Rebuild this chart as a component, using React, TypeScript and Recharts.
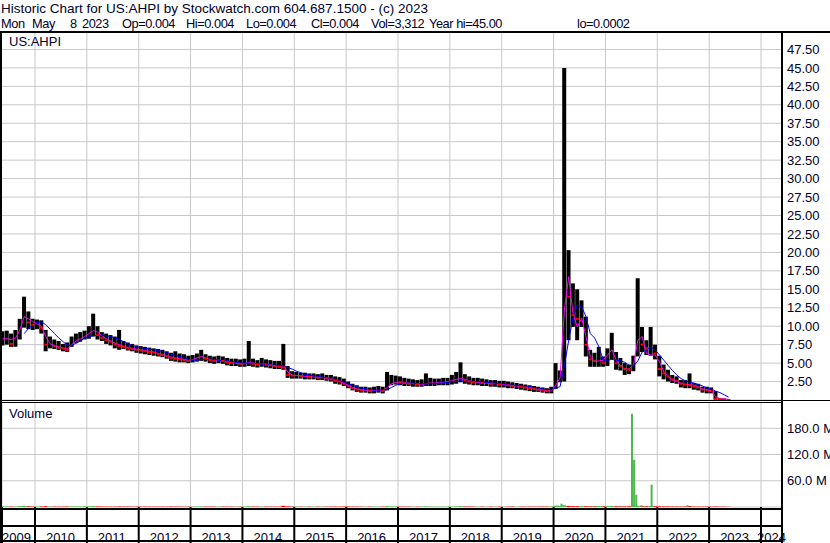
import React from 'react';
import { ComposedChart, Bar, Line, Scatter, XAxis, YAxis, CartesianGrid, Cell } from 'recharts';

// ---- monthly price data, starting May 2009, ending May 2023 ----
const FIRST_YEAR = 2009;
const FIRST_MONTH = 5;

const highs = [
  9.3, 9.4, 9.0, 9.5, 11.0, 14.0, 12.0, 11.0,
  10.9, 10.8, 9.5, 8.6, 8.2, 8.0, 7.6, 7.8, 8.6, 9.0, 9.2, 9.4,
  10.0, 11.7, 10.0, 9.2, 9.0, 8.8, 8.6, 9.5, 8.0, 7.8, 7.6, 7.4,
  7.3, 7.2, 7.1, 7.0, 6.9, 6.8, 6.6, 6.4, 6.6, 6.3, 6.2, 6.0,
  6.1, 6.3, 6.8, 6.2, 6.0, 5.9, 6.0, 5.9, 5.7, 5.6, 5.6, 5.5,
  5.6, 8.0, 5.6, 5.4, 5.7, 5.5, 5.4, 5.3, 5.3, 7.6, 4.6, 3.9,
  3.8, 3.7, 3.7, 3.6, 3.6, 3.5, 3.6, 3.4, 3.4, 3.2, 3.1, 2.9,
  2.5, 2.2, 2.0, 1.8, 1.8, 1.7, 1.8, 1.9, 1.8, 3.8, 3.4, 3.3,
  3.2, 3.0, 2.9, 2.8, 2.7, 2.8, 3.6, 3.0, 2.9, 2.9, 3.0, 3.0,
  3.4, 3.8, 5.1, 3.5, 3.2, 3.0, 3.0, 2.9, 2.8, 2.7, 2.7, 2.6,
  2.6, 2.5, 2.4, 2.3, 2.2, 2.1, 2.0, 1.9, 1.8, 1.7, 1.6, 1.8,
  5.0, 4.0, 45.0, 20.3, 15.8, 15.0, 13.5, 11.3, 6.8, 6.4, 7.2, 5.9,
  7.0, 9.1, 6.5, 5.7, 5.0, 4.8, 6.0, 16.5, 9.9, 8.1, 9.9, 7.5,
  6.0, 4.8, 4.1, 3.4, 3.2, 2.7, 2.7, 3.6, 2.3, 2.2, 1.8, 1.8,
  1.7, 1.2, 0.25, 0.2, 0.1,
];

const lows = [
  7.4, 7.5, 7.2, 7.2, 8.2, 9.8, 9.6, 9.5,
  9.6, 9.0, 6.6, 7.0, 6.9, 6.8, 6.6, 6.5, 7.2, 7.7, 7.9, 8.2,
  8.3, 8.6, 8.2, 8.0, 7.6, 7.4, 7.0, 6.8, 6.9, 6.7, 6.6, 6.4,
  6.3, 6.2, 6.1, 6.0, 5.9, 5.8, 5.6, 5.3, 5.2, 5.1, 5.1, 5.0,
  5.1, 5.2, 5.3, 5.2, 5.0, 4.9, 5.0, 4.9, 4.7, 4.6, 4.6, 4.5,
  4.5, 4.6, 4.5, 4.4, 4.5, 4.4, 4.3, 4.2, 4.2, 4.1, 3.0, 2.9,
  2.9, 2.9, 2.8, 2.8, 2.8, 2.7, 2.7, 2.6, 2.5, 2.2, 2.1, 1.9,
  1.6, 1.3, 1.1, 1.0, 1.0, 0.9, 0.9, 1.0, 0.9, 1.3, 2.0, 2.1,
  2.0, 1.9, 1.9, 1.8, 1.8, 1.8, 1.9, 1.9, 1.9, 2.0, 2.0, 2.0,
  2.1, 2.2, 2.4, 2.2, 2.1, 2.0, 2.0, 1.9, 1.9, 1.8, 1.8, 1.7,
  1.7, 1.6, 1.6, 1.5, 1.4, 1.3, 1.2, 1.1, 1.1, 1.0, 0.9, 0.9,
  1.5, 2.4, 2.5, 8.1, 9.9, 8.1, 9.9, 5.9, 4.5, 4.5, 4.5, 4.5,
  4.6, 5.5, 4.1, 4.0, 3.4, 3.5, 3.9, 5.9, 6.5, 6.1, 6.0, 5.5,
  3.2, 2.8, 2.5, 2.3, 2.2, 1.7, 1.6, 1.6, 1.4, 1.3, 1.0, 0.9,
  0.9, 0.05, 0.01, 0.005, 0.004,
];

const closes = [
  8.0, 8.2, 7.6, 8.6, 9.8, 11.5, 10.5, 10.2,
  10.3, 9.8, 7.5, 7.5, 7.3, 7.1, 7.0, 6.8, 8.0, 8.3, 8.5, 8.8,
  9.0, 9.5, 8.8, 8.4, 8.1, 7.9, 7.5, 7.3, 7.2, 7.0, 6.9, 6.8,
  6.7, 6.6, 6.5, 6.4, 6.2, 6.1, 5.9, 5.7, 5.6, 5.5, 5.4, 5.3,
  5.5, 5.6, 5.8, 5.6, 5.4, 5.3, 5.4, 5.3, 5.1, 5.0, 5.0, 4.9,
  4.9, 5.0, 4.9, 4.8, 4.9, 4.8, 4.7, 4.6, 4.5, 4.4, 3.4, 3.3,
  3.3, 3.2, 3.2, 3.1, 3.1, 3.0, 3.0, 2.9, 2.8, 2.6, 2.5, 2.2,
  1.9, 1.6, 1.4, 1.3, 1.3, 1.2, 1.2, 1.3, 1.2, 2.2, 2.5, 2.6,
  2.4, 2.3, 2.2, 2.2, 2.1, 2.1, 2.3, 2.3, 2.3, 2.4, 2.4, 2.5,
  2.6, 2.8, 3.0, 2.7, 2.5, 2.4, 2.4, 2.3, 2.3, 2.2, 2.2, 2.1,
  2.1, 2.0, 1.9, 1.9, 1.8, 1.7, 1.6, 1.5, 1.4, 1.3, 1.2, 1.2,
  2.5, 3.0, 20.0, 14.0, 11.5, 11.0, 11.5, 7.5, 5.5, 5.3, 5.5, 5.0,
  5.8, 7.0, 5.0, 4.6, 4.2, 4.1, 4.6, 9.5, 7.5, 7.0, 7.0, 6.3,
  4.2, 3.6, 3.2, 2.8, 2.6, 2.2, 2.1, 2.0, 1.8, 1.7, 1.4, 1.3,
  1.2, 0.2, 0.1, 0.05, 0.004,
];

// short moving average (magenta)
const maShort = [
  8.3, 8.3, 8.2, 8.4, 9.5, 11.3, 11.0, 10.6,
  10.3, 10.0, 8.6, 7.6, 7.4, 7.2, 7.0, 6.9, 7.5, 8.0, 8.3, 8.6,
  9.0, 9.4, 9.2, 8.7, 8.3, 8.0, 7.7, 7.5, 7.3, 7.1, 7.0, 6.9,
  6.8, 6.7, 6.6, 6.5, 6.3, 6.2, 6.0, 5.8, 5.7, 5.6, 5.5, 5.4,
  5.5, 5.7, 5.9, 5.7, 5.5, 5.4, 5.4, 5.3, 5.2, 5.1, 5.0, 4.9,
  4.9, 5.1, 5.0, 4.9, 4.9, 4.8, 4.7, 4.6, 4.6, 4.6, 3.8, 3.4,
  3.3, 3.3, 3.2, 3.2, 3.1, 3.1, 3.0, 3.0, 2.9, 2.7, 2.5, 2.3,
  2.0, 1.7, 1.5, 1.4, 1.3, 1.3, 1.3, 1.3, 1.3, 1.7, 2.2, 2.4,
  2.4, 2.3, 2.3, 2.2, 2.2, 2.1, 2.2, 2.3, 2.3, 2.4, 2.4, 2.5,
  2.6, 2.8, 2.9, 2.8, 2.6, 2.4, 2.4, 2.3, 2.3, 2.2, 2.2, 2.1,
  2.1, 2.0, 1.9, 1.9, 1.8, 1.7, 1.6, 1.5, 1.4, 1.3, 1.3, 1.2,
  2.0, 3.0, 12.2, 16.7, 11.7, 9.9, 11.1, 8.6, 5.9, 5.2, 5.3, 5.4,
  6.1, 6.8, 5.4, 4.6, 4.2, 4.2, 4.8, 8.1, 8.6, 6.3, 6.1, 6.1,
  5.2, 3.8, 3.2, 2.7, 2.5, 2.3, 2.1, 2.1, 2.0, 1.8, 1.5, 1.4,
  1.2, 0.45, 0.2, 0.15, 0.1,
];

// long moving average (blue)
const maLong: (number | null)[] = [
  null, null, null, null, null, 9.0, 9.7, 10.2,
  10.5, 10.6, 10.2, 9.6, 9.0, 8.4, 7.9, 7.4, 7.4, 7.7, 8.0, 8.4,
  8.6, 8.7, 8.8, 8.8, 8.7, 8.6, 8.4, 8.2, 7.9, 7.6, 7.4, 7.2,
  7.1, 7.0, 6.9, 6.8, 6.7, 6.6, 6.4, 6.2, 6.0, 5.9, 5.7, 5.5,
  5.4, 5.4, 5.5, 5.5, 5.5, 5.5, 5.4, 5.3, 5.3, 5.2, 5.1, 5.0,
  5.0, 5.0, 5.0, 4.9, 4.9, 4.8, 4.8, 4.7, 4.7, 4.6, 4.4, 4.2,
  3.9, 3.7, 3.5, 3.4, 3.3, 3.2, 3.1, 3.0, 2.9, 2.8, 2.6, 2.4,
  2.2, 2.0, 1.8, 1.6, 1.5, 1.4, 1.35, 1.35, 1.35, 1.4, 1.7, 2.0,
  2.2, 2.3, 2.3, 2.3, 2.2, 2.2, 2.2, 2.2, 2.2, 2.3, 2.3, 2.4,
  2.5, 2.5, 2.6, 2.6, 2.6, 2.5, 2.5, 2.4, 2.4, 2.3, 2.3, 2.2,
  2.2, 2.1, 2.0, 2.0, 1.9, 1.8, 1.8, 1.7, 1.6, 1.5, 1.4, 1.4,
  1.6, 1.8, 4.6, 8.1, 11.1, 12.9, 12.6, 11.3, 9.0, 8.4, 7.2, 5.4,
  5.4, 5.5, 5.4, 5.3, 5.1, 4.7, 4.6, 5.3, 6.5, 6.8, 7.2, 6.8,
  6.1, 5.4, 4.7, 4.0, 3.4, 2.9, 2.6, 2.4, 2.3, 2.1, 1.9, 1.6,
  1.5, 1.2, 1.0, 0.7, 0.4,
];

// monthly baseline volume (millions)
const volumes = [
  1.5, 1.2, 1.0, 1.4, 2.0, 2.5, 1.6, 1.2,
  1.1, 1.3, 1.8, 1.2, 1.0, 0.9, 1.0, 1.1, 1.4, 1.3, 1.2, 1.5,
  1.4, 2.0, 1.3, 1.1, 1.0, 1.0, 0.9, 1.2, 1.0, 0.9, 0.8, 0.9,
  0.9, 1.0, 0.9, 0.8, 0.9, 1.0, 0.9, 1.1, 1.0, 0.9, 0.8, 0.9,
  1.0, 1.1, 1.3, 1.0, 0.9, 0.9, 1.0, 0.9, 0.8, 0.9, 0.9, 0.8,
  0.9, 1.8, 1.0, 0.9, 1.1, 1.0, 0.9, 0.9, 0.8, 2.8, 1.5, 1.0,
  0.9, 0.8, 0.9, 0.8, 0.9, 0.8, 0.9, 0.8, 0.9, 1.0, 0.9, 1.1,
  1.2, 1.0, 0.9, 0.8, 0.9, 0.8, 0.9, 0.9, 0.8, 1.9, 1.4, 1.2,
  1.0, 0.9, 0.9, 0.8, 0.8, 0.9, 1.3, 1.0, 0.9, 0.9, 1.0, 1.0,
  1.1, 1.3, 2.0, 1.2, 1.0, 0.9, 0.9, 0.9, 0.8, 0.9, 0.8, 0.9,
  0.9, 0.8, 0.9, 0.8, 0.9, 0.8, 0.9, 0.8, 0.9, 1.0, 1.0, 1.2,
  3.0, 2.5, 4.0, 2.5, 2.0, 1.8, 2.0, 1.7, 1.5, 1.4, 2.0, 1.5,
  1.8, 2.5, 1.6, 1.5, 1.4, 1.6, 3.0, 3.0, 2.0, 1.6, 2.5, 1.8,
  1.6, 1.4, 1.3, 1.2, 1.2, 1.1, 1.2, 2.0, 1.1, 1.0, 1.0, 1.0,
  1.0, 1.2, 0.8, 0.8, 0.6,
];

// large single-week volume bars (millions)
const spikeDates = ['2020-01-24', '2020-02-26', '2020-11-02', '2021-07-07', '2021-07-22', '2021-08-06', '2021-09-12', '2021-11-22', '2022-08-02'];
const spikeVolumes = [3.0, 7.5, 2.5, 213, 108, 28, 4, 51, 4];

const yearTicks = [2009.3636, 2010, 2011, 2012, 2013, 2014, 2015, 2016, 2017, 2018, 2019, 2020, 2021, 2022, 2023, 2024];
const yearLabels = ['2009', '2010', '2011', '2012', '2013', '2014', '2015', '2016', '2017', '2018', '2019', '2020', '2021', '2022', '2023', '2024'];
const priceTicks = [2.5, 5, 7.5, 10, 12.5, 15, 17.5, 20, 22.5, 25, 27.5, 30, 32.5, 35, 37.5, 40, 42.5, 45, 47.5];
const volTicks = [60, 120, 180];

const headerLine1 = 'Historic Chart for US:AHPI by Stockwatch.com 604.687.1500 - (c) 2023';
const headerFields = ['Mon', 'May', '8', '2023', 'Op=0.004', 'Hi=0.004', 'Lo=0.004', 'Cl=0.004', 'Vol=3,312', 'Year hi=45.00', 'lo=0.0002'];
const headerFieldX = [2, 33, 71, 83, 123, 187, 247, 312, 372, 430, 578];
const symbolLabel = 'US:AHPI';
const volumeLabel = 'Volume';

// ---- derived rows ----
const X_DOMAIN: [number, number] = [2009.3636, 2024.405];
const gridYears = yearTicks.slice(1);

const monthT = (i: number) => {
  const m0 = FIRST_MONTH - 1 + i;
  const y = FIRST_YEAR + Math.floor(m0 / 12);
  const m = m0 % 12;
  return y + (m + 0.5) / 12;
};

const dateT = (s: string) => {
  const [y, m, d] = s.split('-').map(Number);
  const start = Date.UTC(y, 0, 1);
  const end = Date.UTC(y + 1, 0, 1);
  const cur = Date.UTC(y, m - 1, d);
  return y + (cur - start + 43200000) / (end - start);
};

const priceRows = highs.map((h, i) => ({
  t: monthT(i),
  range: [lows[i], h],
  down: i > 0 && closes[i] < closes[i - 1] ? closes[i] : null,
  ma1: maShort[i],
  ma2: maLong[i],
}));

const volRows = volumes.map((v, i) => ({
  t: monthT(i),
  v,
  up: i === 0 ? true : closes[i] >= closes[i - 1],
}));

const spikeRows = spikeDates.map((d, i) => ({ t: dateT(d), v: spikeVolumes[i] }));

const FONT = '"Liberation Sans", Arial, sans-serif';
const TXT = '#00002a';
const GRID = '#c8c8c8';
const GREEN = '#4cb84c';

const CloseMark = (props: any) => {
  const { cx, cy, payload } = props;
  if (cx == null || cy == null || payload == null || payload.down == null) return null;
  return <rect x={cx - 1.5} y={cy - 1} width={3} height={2} fill="#ff0000" />;
};

const EmptyTick = () => <g />;

const gridXGenerator = (p: any) => {
  const s = p && p.xAxis ? p.xAxis.scale : null;
  if (typeof s === 'function') return gridYears.map((t) => s(t));
  if (s && typeof s.map === 'function') return gridYears.map((t) => s.map(t));
  const off = p && p.offset ? p.offset : { left: 2, width: 780 };
  return gridYears.map((t) => off.left + ((t - X_DOMAIN[0]) / (X_DOMAIN[1] - X_DOMAIN[0])) * off.width);
};

const YearTick = (props: any) => {
  const { x, y, payload } = props;
  const idx = yearTicks.indexOf(payload.value);
  if (idx < 0) return null;
  const dx = idx === 0 ? 0 : idx === yearTicks.length - 1 ? -4 : 11;
  return (
    <text x={x + dx} y={y - 1.5} fill={TXT} fontSize={13} fontFamily={FONT} textAnchor="start">
      {yearLabels[idx]}
    </text>
  );
};

const makeRightTick = (fmt: (v: number) => string, dx: number) => (props: any) => {
  const { x, y, payload } = props;
  return (
    <text x={x + dx} y={y} dy="0.355em" fill={TXT} fontSize={13} fontFamily={FONT} textAnchor="start">
      {fmt(payload.value)}
    </text>
  );
};

const PriceTick = makeRightTick((v) => v.toFixed(2), 0);
const VolTick = makeRightTick((v) => `${v.toFixed(1)} M`, -1);

export default function App() {
  return (
    <div style={{ position: 'absolute', left: 0, top: 0, width: 830, height: 543, background: '#fff', overflow: 'hidden', fontFamily: FONT }}>
      <div style={{ position: 'absolute', left: 1, top: 1, fontSize: 13.5, lineHeight: '15px', color: TXT, whiteSpace: 'pre' }}>
        {headerLine1}
      </div>
      {headerFields.map((f, i) => (
        <div key={i} style={{ position: 'absolute', left: headerFieldX[i] - 1, top: 16, fontSize: 12.8, letterSpacing: '-0.45px', lineHeight: '15px', color: TXT, whiteSpace: 'pre' }}>
          {f}
        </div>
      ))}

      {/* price panel */}
      <div style={{ position: 'absolute', left: 0, top: 31 }}>
        <ComposedChart width={830} height={369} data={priceRows} margin={{ top: 0, right: 0, bottom: 0, left: 2 }}>
          <CartesianGrid stroke={GRID} strokeWidth={1} verticalCoordinatesGenerator={gridXGenerator} />
          <XAxis
            dataKey="t"
            type="number"
            domain={X_DOMAIN}
            allowDataOverflow
            ticks={gridYears}
            interval={0}
            height={0}
            tick={EmptyTick}
            axisLine={false}
            tickLine={false}
          />
          <YAxis
            orientation="right"
            width={48}
            domain={[0, 50]}
            ticks={priceTicks}
            interval={0}
            allowDataOverflow
            axisLine={false}
            tickLine={false}
            tickSize={3}
            tickMargin={2}
            tick={PriceTick}
          />
          <Bar dataKey="range" fill="#000000" barSize={4} isAnimationActive={false} />
          <Scatter dataKey="down" shape={CloseMark} isAnimationActive={false} />
          <Line dataKey="ma1" stroke="#ff00ff" strokeWidth={1} dot={false} isAnimationActive={false} />
          <Line dataKey="ma2" stroke="#0000ff" strokeWidth={1} dot={false} isAnimationActive={false} />
        </ComposedChart>
      </div>
      <div style={{ position: 'absolute', left: 9, top: 34, fontSize: 13, lineHeight: '15px', color: TXT }}>{symbolLabel}</div>

      {/* volume panel with date strip */}
      <div style={{ position: 'absolute', left: 0, top: 402 }}>
        <ComposedChart width={830} height={141} data={volRows} margin={{ top: 0, right: 0, bottom: 0, left: 2 }}>
          <CartesianGrid stroke={GRID} strokeWidth={1} />
          <XAxis
            dataKey="t"
            type="number"
            domain={X_DOMAIN}
            allowDataOverflow
            ticks={yearTicks}
            interval={0}
            height={36}
            axisLine={false}
            tickLine={{ stroke: '#000', strokeWidth: 2 }}
            tickSize={36}
            tickMargin={0}
            tick={YearTick}
          />
          <YAxis
            orientation="right"
            width={48}
            domain={[0, 240]}
            ticks={volTicks}
            interval={0}
            allowDataOverflow
            axisLine={false}
            tickLine={false}
            tickSize={3}
            tickMargin={3}
            tick={VolTick}
          />
          <Bar dataKey="v" barSize={4} isAnimationActive={false}>
            {volRows.map((r, i) => (
              <Cell key={i} fill={r.up ? GREEN : '#ff0000'} />
            ))}
          </Bar>
        </ComposedChart>
      </div>
      <div style={{ position: 'absolute', left: 0, top: 402 }}>
        <ComposedChart width={830} height={141} data={spikeRows} margin={{ top: 0, right: 48, bottom: 36, left: 2 }}>
          <XAxis dataKey="t" type="number" domain={X_DOMAIN} allowDataOverflow hide />
          <YAxis domain={[0, 240]} allowDataOverflow hide />
          <Bar dataKey="v" fill={GREEN} barSize={2} isAnimationActive={false} />
        </ComposedChart>
      </div>
      <div style={{ position: 'absolute', left: 9, top: 406, fontSize: 13, lineHeight: '15px', color: TXT }}>{volumeLabel}</div>

      {/* frame lines */}
      <svg width={830} height={543} style={{ position: 'absolute', left: 0, top: 0, pointerEvents: 'none' }}>
        <rect x={0} y={31} width={830} height={2} fill="#000" />
        <rect x={0} y={31} width={2} height={512} fill="#000" />
        <rect x={781} y={31} width={2} height={512} fill="#000" />
        <rect x={0} y={400} width={830} height={1} fill="#000" />
        <rect x={0} y={402} width={783} height={1} fill="#000" />
        <rect x={0} y={508} width={783} height={2} fill="#000" />
        <rect x={0} y={525} width={783} height={2} fill="#000" />
        <rect x={0} y={540} width={783} height={2} fill="#000" />
      </svg>
    </div>
  );
}
